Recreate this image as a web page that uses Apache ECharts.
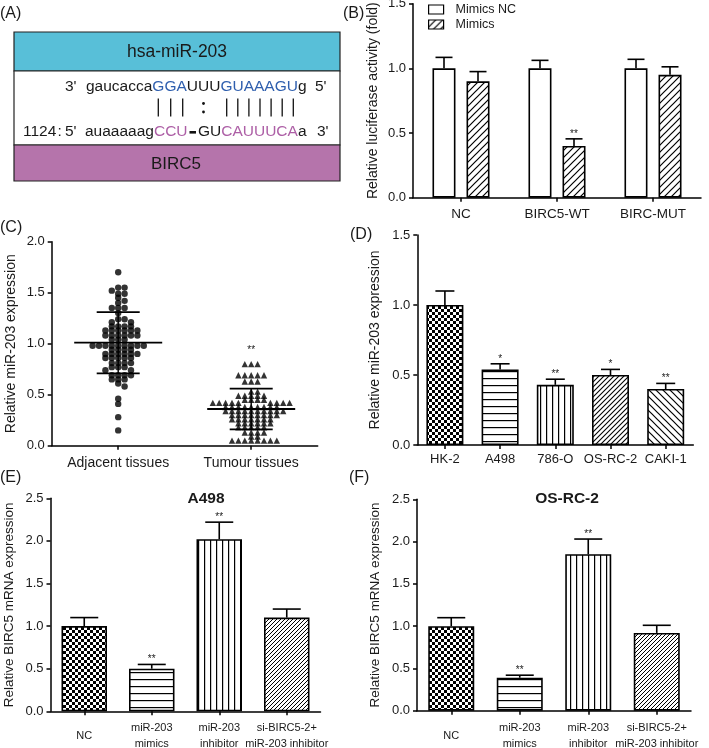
<!DOCTYPE html>
<html><head><meta charset="utf-8">
<script src="https://cdn.jsdelivr.net/npm/echarts@6/dist/echarts.min.js"></script>
<style>html,body{margin:0;padding:0;background:#fff}#c{width:709px;height:748px}</style>
</head><body><div id="c"></div>
<script>
const FONT = '"Liberation Sans", Arial, Helvetica, sans-serif';
const TXT = '#1a1a1a';

// ---------- Panel B ----------
const bCats = ['NC', 'BIRC5-WT', 'BIRC-MUT'];
const bSeriesNames = ['Mimics NC', 'Mimics'];
const bMimicsNC = [1.0, 1.0, 1.0];
const bMimicsNCErr = [0.085, 0.062, 0.07];
const bMimics = [0.90, 0.40, 0.95];
const bMimicsErr = [0.075, 0.055, 0.062];
const bMimicsSig = ['', '**', ''];
const bYTicks = [0, 0.5, 1.0, 1.5];

// ---------- Panel C ----------
const cCats = ['Adjacent tissues', 'Tumour tissues'];
const cAdjacent = [1.70, 1.55, 1.55, 1.52, 1.49, 1.49, 1.45, 1.42, 1.40, 1.35, 1.35, 1.35, 1.30,
  1.24, 1.24, 1.21, 1.21, 1.17, 1.17, 1.17, 1.17, 1.13, 1.13, 1.13, 1.13, 1.13, 1.13,
  1.08, 1.08, 1.08, 1.08, 1.08, 1.08, 1.04, 1.04, 1.04,
  0.98, 0.98, 0.98, 0.98, 0.98, 0.98, 0.98, 0.98, 0.98,
  0.94, 0.94, 0.94, 0.94, 0.90, 0.90, 0.90, 0.90, 0.90, 0.90,
  0.86, 0.86, 0.86, 0.86, 0.86, 0.81, 0.81, 0.81, 0.81, 0.77, 0.77, 0.77, 0.74, 0.74,
  0.69, 0.69, 0.69, 0.69, 0.65, 0.65, 0.65, 0.61, 0.58, 0.46, 0.41, 0.28, 0.15];
const cTumour = [0.80, 0.80, 0.80, 0.69, 0.69, 0.69, 0.69, 0.69, 0.63, 0.63, 0.63, 0.53, 0.53,
  0.49, 0.49, 0.49, 0.49, 0.49, 0.45, 0.45, 0.45, 0.45,
  0.42, 0.42, 0.42, 0.42, 0.42, 0.42, 0.42, 0.42, 0.42,
  0.38, 0.38, 0.38, 0.38, 0.38, 0.38, 0.38, 0.38, 0.38,
  0.34, 0.34, 0.34, 0.34, 0.34, 0.34, 0.34, 0.34, 0.34, 0.34,
  0.30, 0.30, 0.30, 0.30, 0.30, 0.30, 0.30, 0.30, 0.26, 0.26, 0.26, 0.26, 0.26, 0.26, 0.26,
  0.22, 0.22, 0.22, 0.22, 0.22, 0.22, 0.18, 0.18, 0.18, 0.18, 0.18, 0.13, 0.13, 0.13, 0.13,
  0.09, 0.09, 0.05, 0.05, 0.05, 0.05, 0.05, 0.05, 0.05, 0.05];
const cMean = [1.01, 0.36];
const cSD = [0.30, 0.20];
const cSig = ['', '**'];
const cYTicks = [0, 0.5, 1.0, 1.5, 2.0];

// ---------- Panel D ----------
const dCats = ['HK-2', 'A498', '786-O', 'OS-RC-2', 'CAKI-1'];
const dVals = [1.0, 0.54, 0.43, 0.50, 0.40];
const dErr = [0.10, 0.04, 0.04, 0.04, 0.04];
const dSig = ['', '*', '**', '*', '**'];
const dYTicks = [0, 0.5, 1.0, 1.5];

// ---------- Panel E / F ----------
const efCats = ['NC', 'miR-203\nmimics', 'miR-203\ninhibitor', 'si-BIRC5-2+\nmiR-203 inhibitor'];
const eTitle = 'A498';
const eVals = [1.0, 0.50, 2.02, 1.10];
const eErr = [0.10, 0.05, 0.20, 0.10];
const eSig = ['', '**', '**', ''];
const fTitle = 'OS-RC-2';
const fVals = [1.0, 0.39, 1.85, 0.92];
const fErr = [0.10, 0.03, 0.18, 0.09];
const fSig = ['', '**', '**', ''];
const efYTicks = [0, 0.5, 1.0, 1.5, 2.0, 2.5];

// ---------- patterns ----------
function pattern(type, s, lw) {
  const c = document.createElement('canvas');
  c.width = s; c.height = s;
  const ctx = c.getContext('2d');
  ctx.fillStyle = '#fff'; ctx.fillRect(0, 0, s, s);
  ctx.fillStyle = '#000'; ctx.strokeStyle = '#000'; ctx.lineWidth = lw || 1.1;
  if (type === 'checker') {
    const h = s / 2;
    ctx.fillRect(0, 0, h, h); ctx.fillRect(h, h, h, h);
  } else if (type === 'h') {
    ctx.fillRect(0, 0, s, lw || 1.2);
  } else if (type === 'v') {
    ctx.fillRect(0, 0, lw || 1.2, s);
  } else if (type === '/') {
    ctx.beginPath();
    ctx.moveTo(-1, s + 1); ctx.lineTo(s + 1, -1);
    ctx.moveTo(-1, 1); ctx.lineTo(1, -1);
    ctx.moveTo(s - 1, s + 1); ctx.lineTo(s + 1, s - 1);
    ctx.stroke();
  } else if (type === '\\') {
    ctx.beginPath();
    ctx.moveTo(-1, -1); ctx.lineTo(s + 1, s + 1);
    ctx.moveTo(s - 1, -1); ctx.lineTo(s + 1, 1);
    ctx.moveTo(-1, s - 1); ctx.lineTo(1, s + 1);
    ctx.stroke();
  }
  return { image: c, repeat: 'repeat' };
}
const P = {
  checker: pattern('checker', 6),
  h: pattern('h', 7, 1.2),
  v: pattern('v', 6, 1.2),
  bDiag: pattern('/', 7, 1.2),
  dDiag: pattern('/', 5, 1.1),
  dBack: pattern('\\', 7, 1.2),
  eDiag: pattern('/', 4, 1.0)
};

// ---------- grids ----------
const G = {
  B: { left: 413, top: 3.7, width: 288, height: 194 },
  C: { left: 51.7, top: 241.7, width: 266, height: 204 },
  D: { left: 417.3, top: 235, width: 276, height: 210 },
  E: { left: 50.5, top: 498.3, width: 270, height: 213 },
  F: { left: 417, top: 499.3, width: 274, height: 211.4 }
};
const gridList = ['B', 'C', 'D', 'E', 'F'].map(k => Object.assign({ containLabel: false, outerBoundsMode: 'none' }, G[k]));

const axLine = { show: true, lineStyle: { color: '#000', width: 1.5 } };
const axTick = { show: true, length: 4, lineStyle: { color: '#000', width: 1.5 } };

function xAx(gi, data, fs, margin, extra) {
  return Object.assign({
    gridIndex: gi, type: 'category', data: data, boundaryGap: true,
    axisLine: axLine, axisTick: Object.assign({ alignWithLabel: true }, axTick),
    axisLabel: { interval: 0, color: TXT, fontSize: fs, fontFamily: FONT, margin: margin },
    splitLine: { show: false }
  }, extra || {});
}
function yAx(gi, ticks, name, gap, fs) {
  return {
    gridIndex: gi, type: 'value', min: ticks[0], max: ticks[ticks.length - 1], interval: ticks[1] - ticks[0],
    name: name, nameLocation: 'middle', nameGap: gap,
    nameTextStyle: { color: TXT, fontSize: fs || 13.5, fontFamily: FONT },
    axisLine: axLine, axisTick: axTick, splitLine: { show: false },
    axisLabel: { color: TXT, fontSize: 13, fontFamily: FONT, margin: 7, formatter: v => v.toFixed(1) }
  };
}

function errSeries(ai, vals, errs, sigs, capW, off) {
  return {
    type: 'custom', xAxisIndex: ai, yAxisIndex: ai, z: 5, silent: true,
    data: vals.map((v, i) => [i, v, errs[i]]),
    encode: { x: 0, y: 1 },
    renderItem: function (params, api) {
      const i = api.value(0), v = api.value(1), e = api.value(2);
      const p0 = api.coord([i, v]), p1 = api.coord([i, v + e]);
      const x = p0[0] + off;
      const st = { stroke: '#000', lineWidth: 1.6 };
      const ch = [
        { type: 'line', shape: { x1: x, y1: p0[1], x2: x, y2: p1[1] }, style: st },
        { type: 'line', shape: { x1: x - capW / 2, y1: p1[1], x2: x + capW / 2, y2: p1[1] }, style: st }
      ];
      const s = sigs[params.dataIndex];
      if (s) ch.push({ type: 'text', x: x, y: p1[1] - 5, style: { text: s, fill: TXT, fontSize: 10, fontFamily: FONT, align: 'center', verticalAlign: 'middle' } });
      return { type: 'group', children: ch };
    }
  };
}

function barSeries(ai, name, vals, colors, bw, extra) {
  return Object.assign({
    type: 'bar', name: name, xAxisIndex: ai, yAxisIndex: ai, barWidth: bw, silent: true,
    itemStyle: { color: colors[0], borderColor: '#000', borderWidth: 1.6 },
    data: vals.map((v, i) => ({ value: v, itemStyle: { color: colors[i] } }))
  }, extra || {});
}

// row-wise dot layout (pixel offsets) computed from the values and the axis scale:
// points whose pixel heights are closer than rowTol are put side by side.
function swarm(vals, pxPerUnit, sp, rowTol) {
  const order = vals.map((v, i) => i).sort((a, b) => vals[b] - vals[a]);
  const placed = [], off = new Array(vals.length);
  for (const i of order) {
    const y = vals[i] * pxPerUnit;
    const near = placed.filter(p => Math.abs(p.y - y) < rowTol);
    const cands = [0];
    near.forEach(p => cands.push(p.x + sp, p.x - sp));
    cands.sort((a, b) => Math.abs(a) - Math.abs(b) || b - a);
    let best = 0;
    for (const c of cands) {
      if (near.every(p => Math.abs(p.x - c) >= sp - 1e-6)) { best = c; break; }
    }
    placed.push({ x: best, y: y }); off[i] = best;
  }
  return off;
}
const cPx = G.C.height / (cYTicks[cYTicks.length - 1] - cYTicks[0]);
const adjOff = swarm(cAdjacent, cPx, 6.4, 3.9);
const tumOff = swarm(cTumour, cPx, 6.4, 3.9);

const series = [];
// B
series.push(barSeries(0, bSeriesNames[0], bMimicsNC, bMimicsNC.map(() => '#fff'), 23, { barGap: '48%' }));
series.push(barSeries(0, bSeriesNames[1], bMimics, bMimics.map(() => P.bDiag), 23, { barGap: '48%' }));
series.push(errSeries(0, bMimicsNC, bMimicsNCErr, ['', '', ''], 17, -17));
series.push(errSeries(0, bMimics, bMimicsErr, bMimicsSig, 17, 17));
// C
series.push({
  type: 'custom', xAxisIndex: 1, yAxisIndex: 1, z: 1, silent: true,
  data: cMean.map((m, i) => [i, m, cSD[i]]), encode: { x: 0, y: 1 },
  renderItem: function (params, api) {
    const i = api.value(0), m = api.value(1), sd = api.value(2);
    const pm = api.coord([i, m]), pu = api.coord([i, m + sd]), pl = api.coord([i, m - sd]);
    const x = pm[0], st = { stroke: '#000', lineWidth: 1.8 };
    return { type: 'group', children: [
      { type: 'line', shape: { x1: x, y1: pu[1], x2: x, y2: pl[1] }, style: { stroke: '#000', lineWidth: 1.4 } },
      { type: 'line', shape: { x1: x - 44, y1: pm[1], x2: x + 44, y2: pm[1] }, style: st },
      { type: 'line', shape: { x1: x - 21.5, y1: pu[1], x2: x + 21.5, y2: pu[1] }, style: st },
      { type: 'line', shape: { x1: x - 21.5, y1: pl[1], x2: x + 21.5, y2: pl[1] }, style: st }
    ] };
  }
});
series.push({
  type: 'scatter', xAxisIndex: 1, yAxisIndex: 1, symbol: 'circle', symbolSize: 6.4, silent: true, z: 3,
  itemStyle: { color: '#000' },
  data: cAdjacent.map((v, i) => ({ value: [0, v], symbolOffset: [adjOff[i], 0] }))
});
series.push({
  type: 'scatter', xAxisIndex: 1, yAxisIndex: 1, symbol: 'triangle', symbolSize: 6.4, silent: true, z: 3,
  itemStyle: { color: '#000' },
  data: cTumour.map((v, i) => ({ value: [1, v], symbolOffset: [tumOff[i], 0] }))
});
const cMax = [Math.max.apply(null, cAdjacent), Math.max.apply(null, cTumour)];
series.push({
  type: 'custom', xAxisIndex: 1, yAxisIndex: 1, z: 4, silent: true,
  data: cMax.map((m, i) => [i, m]), encode: { x: 0, y: 1 },
  renderItem: function (params, api) {
    const s = cSig[params.dataIndex];
    if (!s) return null;
    const p = api.coord([api.value(0), api.value(1)]);
    return { type: 'text', x: p[0], y: p[1] - 14, style: { text: s, fill: TXT, fontSize: 10, fontFamily: FONT, align: 'center', verticalAlign: 'middle' } };
  }
});
// D
series.push(barSeries(2, 'D', dVals, [P.checker, P.h, P.v, P.dDiag, P.dBack], 37));
series.push(errSeries(2, dVals, dErr, dSig, 19, 0));
// E
series.push(barSeries(3, 'E', eVals, [P.checker, P.h, P.v, P.eDiag], 45.5));
series.push(errSeries(3, eVals, eErr, eSig, 28, 0));
// F
series.push(barSeries(4, 'F', fVals, [P.checker, P.h, P.v, P.eDiag], 46));
series.push(errSeries(4, fVals, fErr, fSig, 28, 0));

// ---------- Panel A graphics & labels ----------
const blue = '#2f5fae', pink = '#ad5fa6';
const g = [];
const SEQ = 15.5;
const rich = { k: { fill: TXT, fontSize: SEQ, fontFamily: FONT }, b: { fill: blue, fontSize: SEQ, fontFamily: FONT }, p: { fill: pink, fontSize: SEQ, fontFamily: FONT } };
function t(x, y, text, o) {
  g.push(Object.assign({ type: 'text', x: x, y: y, silent: true,
    style: Object.assign({ text: text, fill: TXT, fontSize: SEQ, fontFamily: FONT, align: 'left', verticalAlign: 'middle' }, (o || {})) }));
}
g.push({ type: 'rect', shape: { x: 14, y: 32, width: 326, height: 39 }, style: { fill: '#58bfd8', stroke: '#222', lineWidth: 1.2 }, silent: true });
g.push({ type: 'rect', shape: { x: 14, y: 71, width: 326, height: 74 }, style: { fill: '#fff', stroke: '#222', lineWidth: 1.2 }, silent: true });
g.push({ type: 'rect', shape: { x: 14, y: 145, width: 326, height: 36 }, style: { fill: '#b574ab', stroke: '#222', lineWidth: 1.2 }, silent: true });
t(177, 52, 'hsa-miR-203', { fontSize: 17.5, align: 'center' });
t(176, 164, 'BIRC5', { fontSize: 17, align: 'center' });
// line 1
t(65, 87, "3'");
t(86, 87, '{k|gaucacca}{b|GGA}{k|UUU}{b|GUAAAGU}{k|g}', { rich: rich });
t(315, 87, "5'");
// line 3
t(23, 132, '1124'); t(57.5, 132, ':'); t(65, 132, "5'");
t(85, 132, '{k|auaaaaag}{p|CCU}', { rich: rich });
t(198, 132, '{k|GU}{p|CAUUUCA}{k|a}', { rich: rich });
t(317, 132, "3'");
g.push({ type: 'rect', shape: { x: 189.5, y: 131, width: 6.5, height: 2.6 }, style: { fill: '#111' }, silent: true });
// pairing marks
[158.3, 170.7, 182.7, 226.7, 237.8, 248.9, 260, 271.1, 282.2, 293.3].forEach(x => {
  g.push({ type: 'line', shape: { x1: x, y1: 98.5, x2: x, y2: 116.5 }, style: { stroke: '#111', lineWidth: 1.3 }, silent: true });
});
g.push({ type: 'circle', shape: { cx: 203.5, cy: 103.5, r: 1.4 }, style: { fill: '#111' }, silent: true });
g.push({ type: 'circle', shape: { cx: 203.5, cy: 112, r: 1.4 }, style: { fill: '#111' }, silent: true });
// panel letters
t(0, 14, '(A)', { fontSize: 16 }); t(343, 14, '(B)', { fontSize: 16 });
t(0, 228, '(C)', { fontSize: 16 }); t(350, 235, '(D)', { fontSize: 16 });
t(0, 478, '(E)', { fontSize: 16 }); t(349, 478, '(F)', { fontSize: 16 });
// E/F titles
t(206, 499, eTitle, { fontSize: 15.5, fontWeight: 'bold', align: 'center' });
t(567, 499, fTitle, { fontSize: 15.5, fontWeight: 'bold', align: 'center' });

const option = {
  animation: false,
  backgroundColor: '#fff',
  grid: gridList,
  legend: {
    data: bSeriesNames, orient: 'vertical', left: 428, top: 3, padding: 0, itemGap: 2,
    itemWidth: 15, itemHeight: 9, icon: 'rect', selectedMode: false,
    formatter: n => '  ' + n,
    itemStyle: { borderColor: '#000', borderWidth: 1.2 },
    textStyle: { color: TXT, fontSize: 12.5, fontFamily: FONT }
  },
  xAxis: [
    xAx(0, bCats, 13.5, 10),
    xAx(1, cCats, 14, 10),
    xAx(2, dCats, 13, 8),
    xAx(3, efCats, 11, 25, { axisLabel: { interval: 0, color: TXT, fontSize: 11, fontFamily: FONT, margin: 25, verticalAlign: 'middle', lineHeight: 16 } }),
    xAx(4, efCats, 11, 25, { axisLabel: { interval: 0, color: TXT, fontSize: 11, fontFamily: FONT, margin: 25, verticalAlign: 'middle', lineHeight: 16 } })
  ],
  yAxis: [
    yAx(0, bYTicks, 'Relative luciferase activity (fold)', 33, 14),
    yAx(1, cYTicks, 'Relative miR-203 expression', 34, 14),
    yAx(2, dYTicks, 'Relative miR-203 expression', 35, 14),
    yAx(3, efYTicks, 'Relative BIRC5 mRNA expression', 34, 13.5),
    yAx(4, efYTicks, 'Relative BIRC5 mRNA expression', 35, 13.5)
  ],
  series: series,
  graphic: g
};
const chart = echarts.init(document.getElementById('c'), null, { renderer: 'canvas', width: 709, height: 748 });
chart.setOption(option);
</script>
</body></html>
